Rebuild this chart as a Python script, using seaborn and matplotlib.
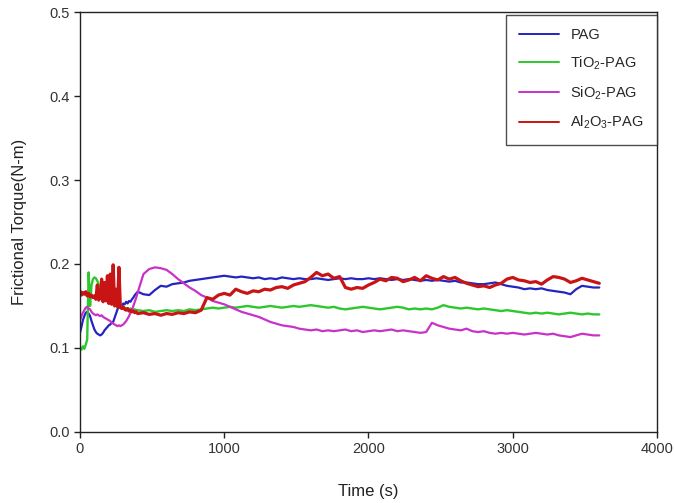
import numpy as np
import pandas as pd
import matplotlib
matplotlib.use("Agg")
import matplotlib.pyplot as plt
import seaborn as sns

# ---- data ----
time_early = list(range(0, 400, 10))
time_late = list(range(400, 3601, 40))
time_s = time_early + time_late

pag = [0.118, 0.125, 0.133, 0.138, 0.142, 0.143, 0.141, 0.138, 0.132, 0.127,
       0.122, 0.119, 0.117, 0.116, 0.115, 0.116, 0.118, 0.121, 0.123, 0.125,
       0.127, 0.128, 0.130, 0.131, 0.136, 0.141, 0.146, 0.150, 0.151, 0.149,
       0.153, 0.152, 0.155, 0.153, 0.156, 0.155, 0.158, 0.160, 0.163, 0.165,
       0.167, 0.164, 0.163, 0.169, 0.174, 0.173, 0.176, 0.177, 0.178, 0.180,
       0.181, 0.182, 0.183, 0.184, 0.185, 0.186, 0.185, 0.184, 0.185, 0.184,
       0.183, 0.184, 0.182, 0.183, 0.182, 0.184, 0.183, 0.182, 0.183, 0.182,
       0.182, 0.183, 0.182, 0.181, 0.182, 0.183, 0.182, 0.183, 0.182, 0.182,
       0.183, 0.182, 0.183, 0.182, 0.181, 0.182, 0.181, 0.182, 0.181, 0.180,
       0.181, 0.180, 0.181, 0.180, 0.179, 0.180, 0.178, 0.178, 0.177, 0.176,
       0.176, 0.177, 0.178, 0.176, 0.174, 0.173, 0.172, 0.170, 0.171, 0.170,
       0.171, 0.169, 0.168, 0.167, 0.166, 0.164, 0.170, 0.174, 0.173, 0.172,
       0.172]

tio2_pag = [0.100, 0.098, 0.102, 0.099, 0.104, 0.110, 0.190, 0.150, 0.175, 0.182,
            0.184, 0.183, 0.180, 0.175, 0.172, 0.170, 0.168, 0.165, 0.163, 0.162,
            0.160, 0.158, 0.157, 0.155, 0.154, 0.153, 0.152, 0.150, 0.150, 0.149,
            0.148, 0.148, 0.147, 0.147, 0.146, 0.147, 0.146, 0.145, 0.146, 0.145,
            0.145, 0.144, 0.145, 0.143, 0.144, 0.145, 0.144, 0.145, 0.144, 0.146,
            0.145, 0.146, 0.147, 0.148, 0.147, 0.148, 0.149, 0.148, 0.149, 0.150,
            0.149, 0.148, 0.149, 0.150, 0.149, 0.148, 0.149, 0.150, 0.149, 0.150,
            0.151, 0.150, 0.149, 0.148, 0.149, 0.147, 0.146, 0.147, 0.148, 0.149,
            0.148, 0.147, 0.146, 0.147, 0.148, 0.149, 0.148, 0.146, 0.147, 0.146,
            0.147, 0.146, 0.148, 0.151, 0.149, 0.148, 0.147, 0.148, 0.147, 0.146,
            0.147, 0.146, 0.145, 0.144, 0.145, 0.144, 0.143, 0.142, 0.141, 0.142,
            0.141, 0.142, 0.141, 0.140, 0.141, 0.142, 0.141, 0.140, 0.141, 0.140,
            0.140]

sio2_pag = [0.133, 0.138, 0.142, 0.145, 0.148, 0.149, 0.147, 0.146, 0.143, 0.141,
            0.140, 0.139, 0.140, 0.139, 0.138, 0.139, 0.137, 0.136, 0.135, 0.134,
            0.133, 0.132, 0.130, 0.129, 0.128, 0.127, 0.126, 0.127, 0.126, 0.127,
            0.128, 0.130, 0.132, 0.135, 0.138, 0.142, 0.145, 0.150, 0.155, 0.160,
            0.166, 0.188, 0.194, 0.196, 0.195, 0.193, 0.188, 0.182, 0.177, 0.172,
            0.168, 0.163, 0.160, 0.156, 0.154, 0.152, 0.149, 0.146, 0.143, 0.141,
            0.139, 0.137, 0.134, 0.131, 0.129, 0.127, 0.126, 0.125, 0.123, 0.122,
            0.121, 0.122, 0.120, 0.121, 0.120, 0.121, 0.122, 0.120, 0.121, 0.119,
            0.120, 0.121, 0.120, 0.121, 0.122, 0.120, 0.121, 0.120, 0.119, 0.118,
            0.119, 0.130, 0.127, 0.125, 0.123, 0.122, 0.121, 0.123, 0.120, 0.119,
            0.120, 0.118, 0.117, 0.118, 0.117, 0.118, 0.117, 0.116, 0.117, 0.118,
            0.117, 0.116, 0.117, 0.115, 0.114, 0.113, 0.115, 0.117, 0.116, 0.115,
            0.115]

al2o3_pag = [0.168, 0.163, 0.166, 0.164, 0.167, 0.162, 0.165, 0.161, 0.163, 0.160,
             0.162, 0.158, 0.175, 0.157, 0.160, 0.182, 0.155, 0.178, 0.156, 0.186,
             0.153, 0.188, 0.152, 0.199, 0.150, 0.170, 0.149, 0.196, 0.148, 0.147,
             0.149, 0.146, 0.145, 0.147, 0.144, 0.145, 0.143, 0.144, 0.142, 0.143,
             0.141, 0.142, 0.140, 0.141, 0.139, 0.141, 0.140, 0.142, 0.141, 0.143,
             0.142, 0.145, 0.160, 0.158, 0.163, 0.165, 0.163, 0.170, 0.167, 0.165,
             0.168, 0.167, 0.170, 0.169, 0.172, 0.173, 0.171, 0.175, 0.177, 0.179,
             0.184, 0.190, 0.186, 0.188, 0.183, 0.185, 0.172, 0.170, 0.172, 0.171,
             0.175, 0.178, 0.182, 0.180, 0.184, 0.183, 0.179, 0.181, 0.184, 0.180,
             0.186, 0.183, 0.181, 0.185, 0.182, 0.184, 0.180, 0.177, 0.175, 0.173,
             0.174, 0.172, 0.175, 0.177, 0.182, 0.184, 0.181, 0.180, 0.178, 0.179,
             0.176, 0.181, 0.185, 0.184, 0.182, 0.178, 0.180, 0.183, 0.181, 0.179,
             0.177]

series_names = ["PAG", "TiO$_2$-PAG", "SiO$_2$-PAG", "Al$_2$O$_3$-PAG"]
series_values = [pag, tio2_pag, sio2_pag, al2o3_pag]
colors = ["#2424c0", "#2ec82e", "#c832c8", "#c81414"]
widths = [1.6, 1.7, 1.6, 2.3]

x_ticks = [0, 1000, 2000, 3000, 4000]
y_ticks = [0.0, 0.1, 0.2, 0.3, 0.4, 0.5]

# ---- build long table ----
frames = []
for name, vals in zip(series_names, series_values):
    frames.append(pd.DataFrame({"Time": time_s, "Torque": vals, "Series": name}))
df = pd.concat(frames, ignore_index=True)

sns.set_style("ticks")
plt.rcParams["font.family"] = ["Liberation Sans", "DejaVu Sans"]
plt.rcParams["mathtext.fontset"] = "custom"
plt.rcParams["mathtext.rm"] = "Liberation Sans"
plt.rcParams["mathtext.it"] = "Liberation Sans"

fig = plt.figure(figsize=(6.75, 5.03), dpi=100)
ax = fig.add_axes([0.1185, 0.1412, 0.8548, 0.8349])

sns.lineplot(data=df, x="Time", y="Torque", hue="Series", hue_order=series_names,
             palette=colors, estimator=None, sort=False, linewidth=1.6, ax=ax)
for line, lw in zip(ax.get_lines()[:len(widths)], widths):
    line.set_linewidth(lw)

ax.set_xlim(0, 4000)
ax.set_ylim(0, 0.5)
ax.set_xticks(x_ticks)
ax.set_yticks(y_ticks)
ax.set_yticklabels([f"{v:.1f}" for v in y_ticks])
ax.tick_params(direction="out", length=4, width=1, labelsize=10.5,
               colors="#222222", labelcolor="#333333")
for s in ax.spines.values():
    s.set_visible(True)
    s.set_linewidth(1.0)
    s.set_color("#222222")
ax.set_xlabel("Time (s)", fontsize=12, labelpad=20, color="#222222")
ax.set_ylabel("Frictional Torque(N-m)", fontsize=12, labelpad=16, color="#222222")

leg = ax.legend(title=None, loc="upper right", bbox_to_anchor=(1.0, 0.993),
                frameon=True, fancybox=False, edgecolor="#222222", fontsize=10.5,
                labelspacing=0.85, handlelength=2.7, borderpad=0.9,
                borderaxespad=0.0)
leg.get_frame().set_linewidth(1.0)
for h in leg.legend_handles:
    h.set_linewidth(1.4)

fig.savefig("out.png", dpi=100)
